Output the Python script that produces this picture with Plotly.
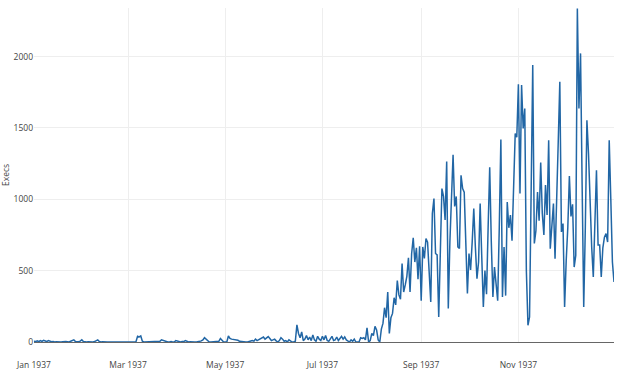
import pandas as pd
import plotly.graph_objects as go

# Daily executions, 1937
jan = [5, 3, 8, 2, 10, 4, 12, 6, 3, 10, 5, 2, 4, 0, 2, 0, 3, 0, 2, 0, 3, 2, 0, 5, 8, 15, 3, 0, 2, 6, 15]
feb = [3, 0, 0, 2, 0, 0, 0, 3, 8, 15, 4, 0, 2, 0, 0, 0, 0, 0, 0, 0, 0, 0, 0, 0, 0, 0, 0, 0]
mar = [0, 0, 0, 0, 0, 2, 40, 35, 42, 5, 0, 0, 2, 0, 0, 0, 0, 0, 3, 0, 5, 15, 10, 5, 2, 0, 0, 3, 0, 0, 10]
apr = [8, 2, 0, 4, 3, 10, 5, 0, 2, 0, 3, 0, 0, 0, 5, 8, 15, 30, 20, 3, 0, 0, 0, 2, 0, 0, 5, 25, 8, 0]
may = [0, 0, 42, 25, 20, 18, 20, 15, 12, 5, 3, 0, 2, 0, 0, 5, 8, 10, 6, 20, 10, 15, 25, 30, 35, 20, 28, 38,
       25, 10, 15]
jun = [20, 8, 0, 10, 30, 20, 5, 10, 0, 15, 8, 0, 0, 5, 120, 60, 30, 70, 10, 20, 45, 15, 35, 10, 50, 15, 5, 40,
       20, 10]
jul = [40, 15, 45, 10, 5, 25, 40, 10, 15, 35, 10, 25, 40, 20, 35, 15, 10, 0, 15, 5, 20, 0, 0, 0, 30, 25, 30, 15,
       100, 0, 10]
aug = [60, 45, 110, 85, 15, 0, 90, 130, 240, 170, 350, 60, 170, 200, 310, 260, 430, 330, 300, 550, 350, 400,
       460, 590, 350, 620, 730, 560, 660, 440, 670]
sep = [290, 666, 585, 725, 700, 450, 280, 900, 1005, 620, 610, 175, 600, 1075, 1020, 855, 1265, 235, 700, 1000,
       1312, 950, 1020, 666, 655, 1168, 1075, 1050, 700, 340]
oct_ = [620, 505, 700, 935, 666, 444, 560, 970, 600, 245, 500, 335, 800, 1225, 700, 315, 525, 400, 290, 800,
        1419, 315, 665, 325, 980, 800, 890, 710, 1100, 1460, 1435]
nov = [1806, 1040, 1800, 1496, 1636, 500, 117, 175, 1000, 1940, 690, 780, 1050, 850, 1257, 900, 750, 1099, 890,
       1414, 654, 820, 970, 584, 1100, 1400, 1823, 771, 830, 245]
dec = [570, 800, 1163, 880, 965, 525, 607, 2337, 1636, 2022, 1100, 245, 800, 1554, 1320, 900, 665, 455, 800,
       1203, 680, 680, 455, 660, 735, 760, 700, 1414, 1000, 560, 420]

execs = jan + feb + mar + apr + may + jun + jul + aug + sep + oct_ + nov + dec
dates = pd.date_range("1937-01-01", periods=len(execs), freq="D")

fig = go.Figure()
fig.add_trace(go.Scatter(
    x=dates, y=execs, mode="lines",
    line=dict(color="#2166a5", width=1.5),
    hoverinfo="x+y",
))

fig.update_layout(
    width=620, height=374,
    margin=dict(l=34, r=6, t=8, b=32, autoexpand=False),
    paper_bgcolor="white", plot_bgcolor="white",
    font=dict(family="Open Sans, verdana, arial, sans-serif", size=8.5, color="#444"),
    showlegend=False,
    xaxis=dict(
        automargin=False,
        showgrid=True, gridcolor="#eeeeee", gridwidth=1,
        tickformat="%b %Y", dtick="M2", tick0="1937-01-01",
        ticks="", ticklabelstandoff=16,
        zeroline=False, showline=False,
        tickfont=dict(size=8.5),
    ),
    yaxis=dict(
        automargin=False,
        title=dict(text="Execs", font=dict(size=8.5)),
        showgrid=True, gridcolor="#eeeeee", gridwidth=1,
        zeroline=True, zerolinecolor="#666666", zerolinewidth=1,
        ticks="", tickfont=dict(size=8.5),
        range=[0, 2340], dtick=500,
    ),
)

fig.write_html(
    "out.html",
    config={"displayModeBar": False},
    post_script="document.body.style.margin='0';document.body.style.overflow='hidden';",
)
